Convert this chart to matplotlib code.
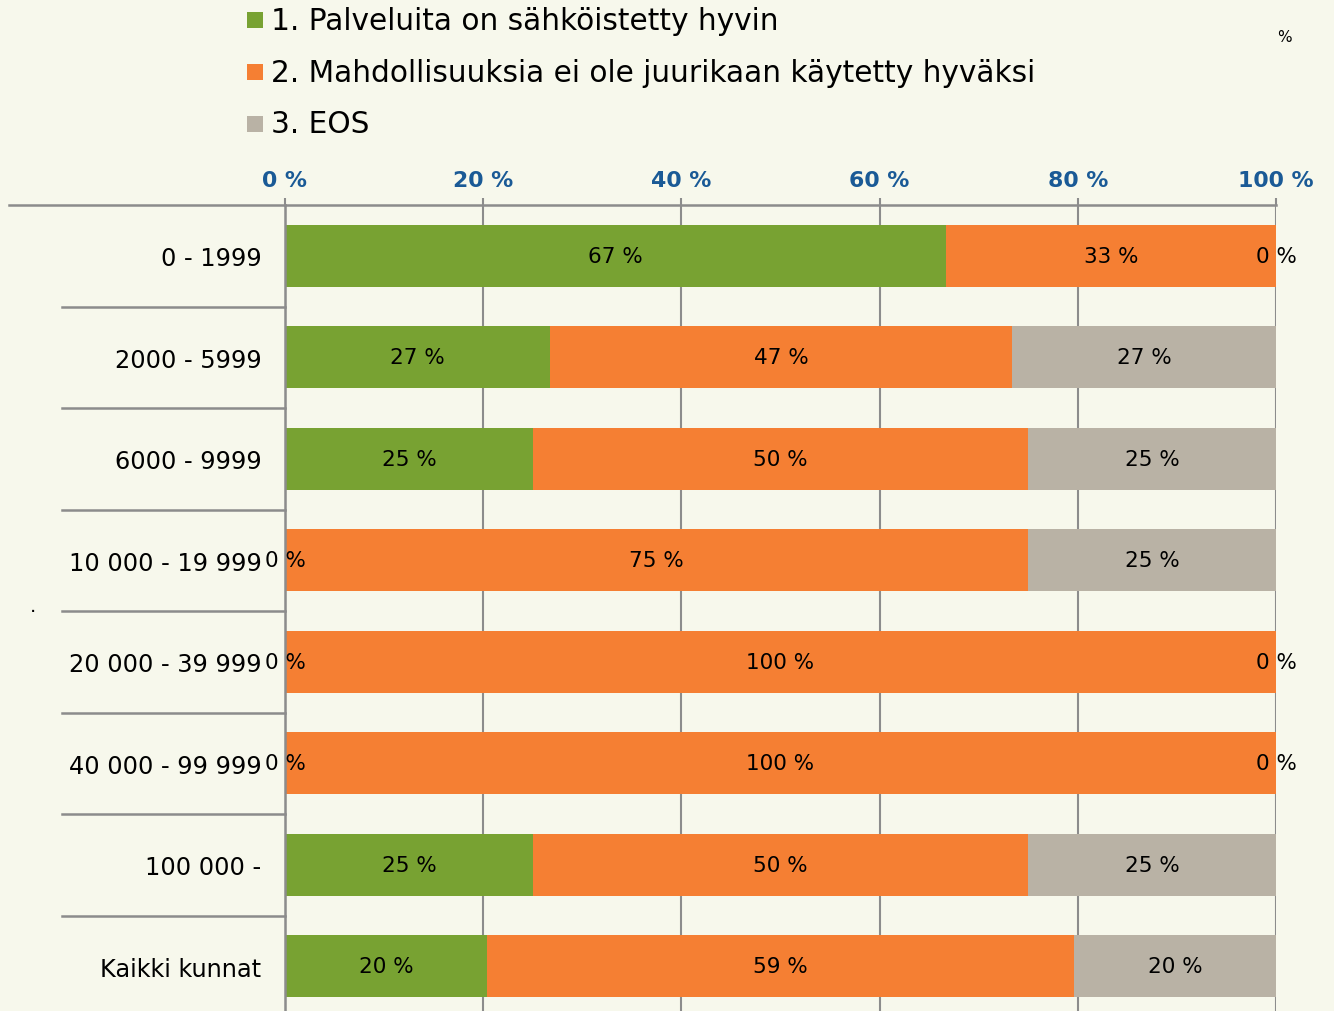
import matplotlib
matplotlib.use("Agg")
import matplotlib.pyplot as plt
import numpy as np

categories = ["0 - 1999", "2000 - 5999", "6000 - 9999", "10 000 - 19 999",
              "20 000 - 39 999", "40 000 - 99 999", "100 000 -", "Kaikki kunnat"]
series_names = ["1. Palveluita on sähköistetty hyvin",
                "2. Mahdollisuuksia ei ole juurikaan käytetty hyväksi",
                "3. EOS"]
good = [66.7, 26.7, 25.0, 0.0, 0.0, 0.0, 25.0, 20.4]
unused = [33.3, 46.7, 50.0, 75.0, 100.0, 100.0, 50.0, 59.2]
eos = [0.0, 26.7, 25.0, 25.0, 0.0, 0.0, 25.0, 20.4]
xticks = [0, 20, 40, 60, 80, 100]
xtick_labels = ["0 %", "20 %", "40 %", "60 %", "80 %", "100 %"]

colors = ["#78A232", "#F57F33", "#B9B2A5"]
bg = "#F7F8EC"
gridc = "#8C8C8C"
W, H = 1334, 1012

fig = plt.figure(figsize=(W / 100, H / 100), dpi=100, facecolor=bg)
ax = fig.add_axes([285 / W, 1 - 1018 / H, 991 / W, 812 / H], facecolor=bg)

y = np.arange(len(categories))
left = np.zeros(len(categories))
for vals, col in zip([good, unused, eos], colors):
    vals = np.array(vals)
    ax.barh(y, vals, left=left, height=0.61, color=col, zorder=2)
    for yi, (l, v) in enumerate(zip(left, vals)):
        ax.text(l + v / 2, yi, f"{v:.0f} %", ha="center", va="center",
                fontsize=15.5, color="black", zorder=3)
    left = left + vals

ax.set_xlim(0, 100)
ax.set_ylim(len(categories) - 0.5, -0.5)
ax.xaxis.tick_top()
ax.set_xticks(xticks)
ax.set_xticklabels(xtick_labels, fontsize=15.8, fontweight="bold", color="#1A5A96")
ax.tick_params(axis="x", length=5, color=gridc, pad=6, width=1.5)
ax.set_yticks(y)
ax.set_yticklabels(categories, fontsize=17.3)
ax.tick_params(axis="y", length=0, pad=17)
ax.grid(axis="x", color=gridc, linewidth=1.5, zorder=0)
for s in ["right", "bottom"]:
    ax.spines[s].set_visible(False)
for s in ["top", "left"]:
    ax.spines[s].set_color(gridc)
    ax.spines[s].set_linewidth(1.8)

# category separators in the label area
for b in np.arange(0.5, len(categories) - 0.5, 1.0):
    ax.plot([-22.5, 0], [b, b], color=gridc, lw=1.8, clip_on=False,
            transform=ax.transData, zorder=1)
ax.plot([-27.9, 0], [-0.5, -0.5], color=gridc, lw=1.8, clip_on=False, zorder=1)

# legend
for i, (name, col) in enumerate(zip(series_names, colors)):
    yy = 1 - (21 + 52 * i) / H
    fig.patches.append(plt.Rectangle((247 / W, yy - 8 / H), 16 / W, 16 / H,
                                     facecolor=col, transform=fig.transFigure))
    fig.text(271 / W, yy, name, fontsize=21.3, va="center", ha="left")

fig.text(1284 / W, 1 - 38 / H, "%", fontsize=11, ha="center", va="center")
fig.text(33 / W, 1 - 607 / H, ".", fontsize=14, ha="center", va="center")

fig.savefig("out.png", dpi=100, facecolor=bg)
